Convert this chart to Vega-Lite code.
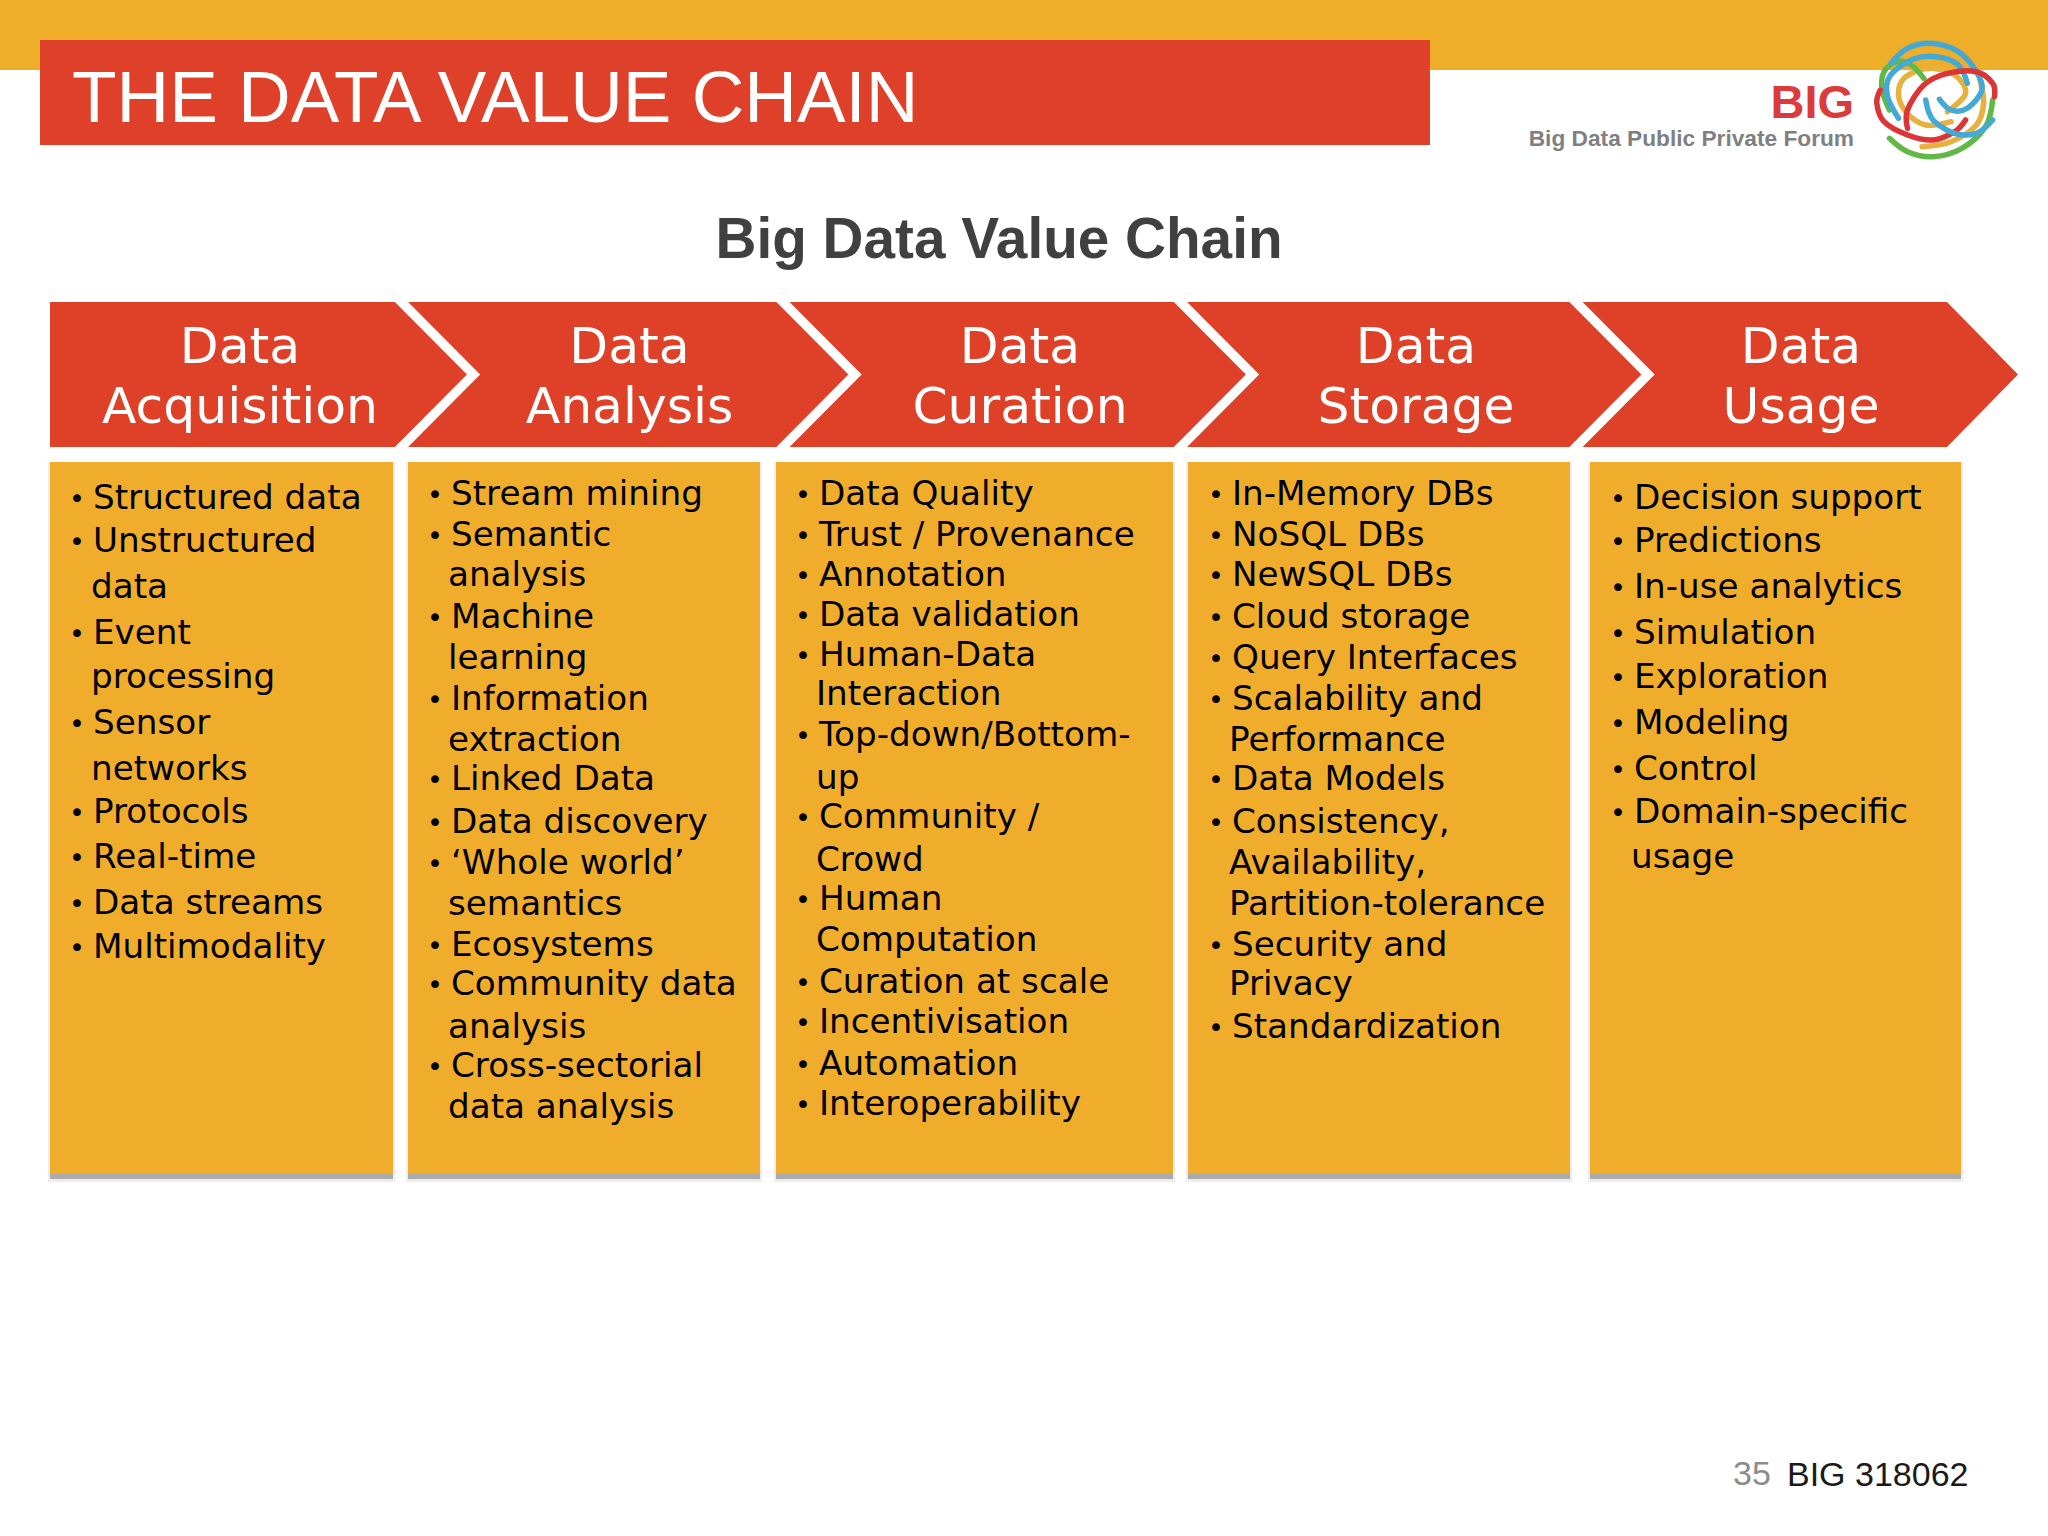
{
  "$schema": "https://vega.github.io/schema/vega-lite/v6.json",
  "width": 2048,
  "height": 1536,
  "autosize": {"type": "fit", "contains": "padding"},
  "padding": 0,
  "background": "#ffffff",
  "config": {"view": {"stroke": null}},
  "datasets": {
    "panels": [
      {"stage": "Data Acquisition", "x": 50, "x2": 393, "y": 462, "y2": 1174},
      {"stage": "Data Analysis", "x": 408, "x2": 760, "y": 462, "y2": 1174},
      {"stage": "Data Curation", "x": 776, "x2": 1173, "y": 462, "y2": 1174},
      {"stage": "Data Storage", "x": 1188, "x2": 1570, "y": 462, "y2": 1174},
      {"stage": "Data Usage", "x": 1590, "x2": 1961, "y": 462, "y2": 1174}
    ],
    "items": [
      {"stage": "Data Acquisition", "x": 93, "y": 509, "text": "Structured data", "bullet": true},
      {"stage": "Data Acquisition", "x": 93, "y": 552, "text": "Unstructured", "bullet": true},
      {"stage": "Data Acquisition", "x": 91, "y": 598, "text": "data", "bullet": false},
      {"stage": "Data Acquisition", "x": 93, "y": 644, "text": "Event", "bullet": true},
      {"stage": "Data Acquisition", "x": 91, "y": 688, "text": "processing", "bullet": false},
      {"stage": "Data Acquisition", "x": 93, "y": 734, "text": "Sensor", "bullet": true},
      {"stage": "Data Acquisition", "x": 91, "y": 779.5, "text": "networks", "bullet": false},
      {"stage": "Data Acquisition", "x": 93, "y": 822.5, "text": "Protocols", "bullet": true},
      {"stage": "Data Acquisition", "x": 93, "y": 868, "text": "Real-time", "bullet": true},
      {"stage": "Data Acquisition", "x": 93, "y": 914, "text": "Data streams", "bullet": true},
      {"stage": "Data Acquisition", "x": 93, "y": 958, "text": "Multimodality", "bullet": true},

      {"stage": "Data Analysis", "x": 451, "y": 505, "text": "Stream mining", "bullet": true},
      {"stage": "Data Analysis", "x": 451, "y": 546, "text": "Semantic", "bullet": true},
      {"stage": "Data Analysis", "x": 448, "y": 586, "text": "analysis", "bullet": false},
      {"stage": "Data Analysis", "x": 451, "y": 628, "text": "Machine", "bullet": true},
      {"stage": "Data Analysis", "x": 448, "y": 668.5, "text": "learning", "bullet": false},
      {"stage": "Data Analysis", "x": 451, "y": 710, "text": "Information", "bullet": true},
      {"stage": "Data Analysis", "x": 448, "y": 751, "text": "extraction", "bullet": false},
      {"stage": "Data Analysis", "x": 451, "y": 790, "text": "Linked Data", "bullet": true},
      {"stage": "Data Analysis", "x": 451, "y": 833, "text": "Data discovery", "bullet": true},
      {"stage": "Data Analysis", "x": 451, "y": 873.5, "text": "‘Whole world’", "bullet": true},
      {"stage": "Data Analysis", "x": 448, "y": 915, "text": "semantics", "bullet": false},
      {"stage": "Data Analysis", "x": 451, "y": 956, "text": "Ecosystems", "bullet": true},
      {"stage": "Data Analysis", "x": 451, "y": 995, "text": "Community data", "bullet": true},
      {"stage": "Data Analysis", "x": 448, "y": 1038, "text": "analysis", "bullet": false},
      {"stage": "Data Analysis", "x": 451, "y": 1077, "text": "Cross-sectorial", "bullet": true},
      {"stage": "Data Analysis", "x": 448, "y": 1118, "text": "data analysis", "bullet": false},

      {"stage": "Data Curation", "x": 819, "y": 505, "text": "Data Quality", "bullet": true},
      {"stage": "Data Curation", "x": 819, "y": 546, "text": "Trust / Provenance", "bullet": true},
      {"stage": "Data Curation", "x": 819, "y": 586, "text": "Annotation", "bullet": true},
      {"stage": "Data Curation", "x": 819, "y": 625.5, "text": "Data validation", "bullet": true},
      {"stage": "Data Curation", "x": 819, "y": 666, "text": "Human-Data", "bullet": true},
      {"stage": "Data Curation", "x": 816, "y": 705, "text": "Interaction", "bullet": false},
      {"stage": "Data Curation", "x": 819, "y": 745.5, "text": "Top-down/Bottom-", "bullet": true},
      {"stage": "Data Curation", "x": 816, "y": 788.5, "text": "up", "bullet": false},
      {"stage": "Data Curation", "x": 819, "y": 828, "text": "Community /", "bullet": true},
      {"stage": "Data Curation", "x": 816, "y": 871, "text": "Crowd", "bullet": false},
      {"stage": "Data Curation", "x": 819, "y": 910, "text": "Human", "bullet": true},
      {"stage": "Data Curation", "x": 816, "y": 950.5, "text": "Computation", "bullet": false},
      {"stage": "Data Curation", "x": 819, "y": 992.5, "text": "Curation at scale", "bullet": true},
      {"stage": "Data Curation", "x": 819, "y": 1033, "text": "Incentivisation", "bullet": true},
      {"stage": "Data Curation", "x": 819, "y": 1075, "text": "Automation", "bullet": true},
      {"stage": "Data Curation", "x": 819, "y": 1115, "text": "Interoperability", "bullet": true},

      {"stage": "Data Storage", "x": 1232, "y": 505, "text": "In-Memory DBs", "bullet": true},
      {"stage": "Data Storage", "x": 1232, "y": 546, "text": "NoSQL DBs", "bullet": true},
      {"stage": "Data Storage", "x": 1232, "y": 586, "text": "NewSQL DBs", "bullet": true},
      {"stage": "Data Storage", "x": 1232, "y": 628, "text": "Cloud storage", "bullet": true},
      {"stage": "Data Storage", "x": 1232, "y": 668.5, "text": "Query Interfaces", "bullet": true},
      {"stage": "Data Storage", "x": 1232, "y": 710, "text": "Scalability and", "bullet": true},
      {"stage": "Data Storage", "x": 1229, "y": 751, "text": "Performance", "bullet": false},
      {"stage": "Data Storage", "x": 1232, "y": 790, "text": "Data Models", "bullet": true},
      {"stage": "Data Storage", "x": 1232, "y": 833, "text": "Consistency,", "bullet": true},
      {"stage": "Data Storage", "x": 1229, "y": 873.5, "text": "Availability,", "bullet": false},
      {"stage": "Data Storage", "x": 1229, "y": 915, "text": "Partition-tolerance", "bullet": false},
      {"stage": "Data Storage", "x": 1232, "y": 956, "text": "Security and", "bullet": true},
      {"stage": "Data Storage", "x": 1229, "y": 995, "text": "Privacy", "bullet": false},
      {"stage": "Data Storage", "x": 1232, "y": 1038, "text": "Standardization", "bullet": true},

      {"stage": "Data Usage", "x": 1634, "y": 509, "text": "Decision support", "bullet": true},
      {"stage": "Data Usage", "x": 1634, "y": 552, "text": "Predictions", "bullet": true},
      {"stage": "Data Usage", "x": 1634, "y": 598, "text": "In-use analytics", "bullet": true},
      {"stage": "Data Usage", "x": 1634, "y": 644, "text": "Simulation", "bullet": true},
      {"stage": "Data Usage", "x": 1634, "y": 688, "text": "Exploration", "bullet": true},
      {"stage": "Data Usage", "x": 1634, "y": 734, "text": "Modeling", "bullet": true},
      {"stage": "Data Usage", "x": 1634, "y": 779.5, "text": "Control", "bullet": true},
      {"stage": "Data Usage", "x": 1634, "y": 822.5, "text": "Domain-specific", "bullet": true},
      {"stage": "Data Usage", "x": 1631, "y": 868, "text": "usage", "bullet": false}
    ],
    "swirl": [
      {"arc": "orange1", "hue": "orange", "seq": 1, "x": 1951, "y": 121.7},
      {"arc": "orange1", "hue": "orange", "seq": 2, "x": 1925.7, "y": 125},
      {"arc": "orange1", "hue": "orange", "seq": 3, "x": 1905.8, "y": 111.7},
      {"arc": "orange1", "hue": "orange", "seq": 4, "x": 1898.5, "y": 93.3},
      {"arc": "orange1", "hue": "orange", "seq": 5, "x": 1905.8, "y": 76.7},
      {"arc": "orange1", "hue": "orange", "seq": 6, "x": 1929.3, "y": 68.3},
      {"arc": "orange1", "hue": "orange", "seq": 7, "x": 1954.7, "y": 75},
      {"arc": "orange1", "hue": "orange", "seq": 8, "x": 1965.6, "y": 93.3},
      {"arc": "orange1", "hue": "orange", "seq": 9, "x": 1947.4, "y": 111.7},
      {"arc": "orange2", "hue": "orange", "seq": 1, "x": 1922.1, "y": 146.7},
      {"arc": "orange2", "hue": "orange", "seq": 2, "x": 1951, "y": 141.7},
      {"arc": "orange2", "hue": "orange", "seq": 3, "x": 1976.4, "y": 125},
      {"arc": "orange2", "hue": "orange", "seq": 4, "x": 1983.6, "y": 103.3},
      {"arc": "orange2", "hue": "orange", "seq": 5, "x": 1980, "y": 80},
      {"arc": "green1", "hue": "green", "seq": 1, "x": 1923.8, "y": 78.3},
      {"arc": "green1", "hue": "green", "seq": 2, "x": 1911.2, "y": 65},
      {"arc": "green1", "hue": "green", "seq": 3, "x": 1896.7, "y": 61.7},
      {"arc": "green1", "hue": "green", "seq": 4, "x": 1884, "y": 71.7},
      {"arc": "green1", "hue": "green", "seq": 5, "x": 1882.2, "y": 90},
      {"arc": "green1", "hue": "green", "seq": 6, "x": 1889.5, "y": 110},
      {"arc": "green2", "hue": "green", "seq": 1, "x": 1889.5, "y": 138.3},
      {"arc": "green2", "hue": "green", "seq": 2, "x": 1907.5, "y": 151.7},
      {"arc": "green2", "hue": "green", "seq": 3, "x": 1933, "y": 156.7},
      {"arc": "green2", "hue": "green", "seq": 4, "x": 1961.9, "y": 148.3},
      {"arc": "green2", "hue": "green", "seq": 5, "x": 1985.5, "y": 126.7},
      {"arc": "green2", "hue": "green", "seq": 6, "x": 1992.7, "y": 100},
      {"arc": "blue1", "hue": "blue", "seq": 1, "x": 1891.2, "y": 63.3},
      {"arc": "blue1", "hue": "blue", "seq": 2, "x": 1907.5, "y": 48.3},
      {"arc": "blue1", "hue": "blue", "seq": 3, "x": 1931.1, "y": 43.3},
      {"arc": "blue1", "hue": "blue", "seq": 4, "x": 1958.3, "y": 51.7},
      {"arc": "blue1", "hue": "blue", "seq": 5, "x": 1976.4, "y": 71.7},
      {"arc": "blue1", "hue": "blue", "seq": 6, "x": 1981.9, "y": 90},
      {"arc": "blue1", "hue": "blue", "seq": 7, "x": 1967.3, "y": 108.3},
      {"arc": "blue1", "hue": "blue", "seq": 8, "x": 1951, "y": 110},
      {"arc": "blue1", "hue": "blue", "seq": 9, "x": 1939.5, "y": 99.3},
      {"arc": "blue2", "hue": "blue", "seq": 1, "x": 1898.5, "y": 118.3},
      {"arc": "blue2", "hue": "blue", "seq": 2, "x": 1887.6, "y": 96.7},
      {"arc": "blue2", "hue": "blue", "seq": 3, "x": 1889.5, "y": 76.7},
      {"arc": "blue2", "hue": "blue", "seq": 4, "x": 1911.2, "y": 60},
      {"arc": "blue2", "hue": "blue", "seq": 5, "x": 1936.5, "y": 56.7},
      {"arc": "blue2", "hue": "blue", "seq": 6, "x": 1958.3, "y": 65},
      {"arc": "blue2", "hue": "blue", "seq": 7, "x": 1967.3, "y": 83.3},
      {"arc": "red1", "hue": "red", "seq": 1, "x": 1907.5, "y": 128.3},
      {"arc": "red1", "hue": "red", "seq": 2, "x": 1907.5, "y": 110},
      {"arc": "red1", "hue": "red", "seq": 3, "x": 1923.8, "y": 85},
      {"arc": "red1", "hue": "red", "seq": 4, "x": 1947.4, "y": 73.3},
      {"arc": "red1", "hue": "red", "seq": 5, "x": 1976.4, "y": 71.7},
      {"arc": "red1", "hue": "red", "seq": 6, "x": 1992.7, "y": 83.3},
      {"arc": "red1", "hue": "red", "seq": 7, "x": 1994.5, "y": 96.7},
      {"arc": "red2", "hue": "red", "seq": 1, "x": 1880.3, "y": 90},
      {"arc": "red2", "hue": "red", "seq": 2, "x": 1876.8, "y": 103.3},
      {"arc": "red2", "hue": "red", "seq": 3, "x": 1884, "y": 121.7},
      {"arc": "red2", "hue": "red", "seq": 4, "x": 1907.5, "y": 135},
      {"arc": "red2", "hue": "red", "seq": 5, "x": 1933, "y": 140},
      {"arc": "red2", "hue": "red", "seq": 6, "x": 1954.7, "y": 131.7},
      {"arc": "red2", "hue": "red", "seq": 7, "x": 1965.6, "y": 120},
      {"arc": "blue3", "hue": "blue", "seq": 1, "x": 1925.7, "y": 100},
      {"arc": "blue3", "hue": "blue", "seq": 2, "x": 1933, "y": 120},
      {"arc": "blue3", "hue": "blue", "seq": 3, "x": 1954.7, "y": 133.3},
      {"arc": "blue3", "hue": "blue", "seq": 4, "x": 1976.4, "y": 133.3},
      {"arc": "blue3", "hue": "blue", "seq": 5, "x": 1992.7, "y": 120}
    ]
  },
  "encoding": {
    "x": {"field": "x", "type": "quantitative", "axis": null, "scale": {"domain": [0, 2048], "nice": false, "zero": false}},
    "y": {"field": "y", "type": "quantitative", "axis": null, "scale": {"domain": [1536, 0], "nice": false, "zero": false}}
  },
  "layer": [
    {
      "data": {"values": [{"x": 0, "x2": 2048, "y": 0, "y2": 70}]},
      "mark": {"type": "rect", "fill": "#efae2a"},
      "encoding": {"x2": {"field": "x2"}, "y2": {"field": "y2"}}
    },
    {
      "data": {"values": [{"x": 40, "x2": 1430, "y": 40, "y2": 145}]},
      "mark": {"type": "rect", "fill": "#df4029"},
      "encoding": {"x2": {"field": "x2"}, "y2": {"field": "y2"}}
    },
    {
      "data": {"values": [{"x": 50, "y": 302, "y2": 447}, {"x": 1947, "y": 302, "y2": 447}, {"x": 2018, "y": 374.5, "y2": 374.5}]},
      "mark": {"type": "area", "orient": "vertical", "fill": "#de4028"},
      "encoding": {"y2": {"field": "y2"}}
    },
    {
      "data": {"values": [
        {"sep": 1, "seq": 1, "x": 395.5, "y": 296}, {"sep": 1, "seq": 2, "x": 473.5, "y": 374.5}, {"sep": 1, "seq": 3, "x": 395.5, "y": 453},
        {"sep": 2, "seq": 1, "x": 777, "y": 296}, {"sep": 2, "seq": 2, "x": 855, "y": 374.5}, {"sep": 2, "seq": 3, "x": 777, "y": 453},
        {"sep": 3, "seq": 1, "x": 1174.5, "y": 296}, {"sep": 3, "seq": 2, "x": 1252.5, "y": 374.5}, {"sep": 3, "seq": 3, "x": 1174.5, "y": 453},
        {"sep": 4, "seq": 1, "x": 1570, "y": 296}, {"sep": 4, "seq": 2, "x": 1648, "y": 374.5}, {"sep": 4, "seq": 3, "x": 1570, "y": 453}
      ]},
      "mark": {"type": "line", "stroke": "#ffffff", "strokeWidth": 9.5, "strokeJoin": "miter"},
      "encoding": {"detail": {"field": "sep"}, "order": {"field": "seq"}}
    },
    {
      "data": {"name": "panels"},
      "mark": {"type": "rect", "fill": "#000000", "opacity": 0.07, "xOffset": -2, "x2Offset": 2, "y2Offset": 8},
      "encoding": {"x2": {"field": "x2"}, "y2": {"field": "y2"}}
    },
    {
      "data": {"name": "panels"},
      "mark": {"type": "rect", "fill": "#000000", "opacity": 0.28, "y2Offset": 5},
      "encoding": {"x2": {"field": "x2"}, "y2": {"field": "y2"}}
    },
    {
      "data": {"name": "panels"},
      "mark": {"type": "rect", "fill": "#f0ad2b"},
      "encoding": {"x2": {"field": "x2"}, "y2": {"field": "y2"}}
    },
    {
      "data": {"name": "items"},
      "mark": {"type": "text", "font": "DejaVu Sans", "fontSize": 34.2, "align": "left", "baseline": "alphabetic", "fill": "#000000"},
      "encoding": {"text": {"field": "text"}}
    },
    {
      "data": {"name": "items"},
      "transform": [{"filter": "datum.bullet"}],
      "mark": {"type": "text", "font": "DejaVu Sans", "fontSize": 27, "align": "center", "baseline": "alphabetic", "fill": "#000000", "text": "•", "xOffset": -16, "yOffset": -1}
    },
    {
      "data": {"values": [
        {"x": 240, "y": 363, "text": "Data"}, {"x": 240, "y": 423, "text": "Acquisition"},
        {"x": 629.5, "y": 363, "text": "Data"}, {"x": 629.5, "y": 423, "text": "Analysis"},
        {"x": 1020, "y": 363, "text": "Data"}, {"x": 1020, "y": 423, "text": "Curation"},
        {"x": 1416, "y": 363, "text": "Data"}, {"x": 1416, "y": 423, "text": "Storage"},
        {"x": 1801, "y": 363, "text": "Data"}, {"x": 1801, "y": 423, "text": "Usage"}
      ]},
      "mark": {"type": "text", "font": "DejaVu Sans", "fontSize": 50.4, "align": "center", "baseline": "alphabetic", "fill": "#ffffff"},
      "encoding": {"text": {"field": "text"}}
    },
    {
      "data": {"values": [{"x": 72, "y": 122, "text": "THE DATA VALUE CHAIN"}]},
      "mark": {"type": "text", "font": "Liberation Sans", "fontSize": 72.9, "align": "left", "baseline": "alphabetic", "fill": "#ffffff"},
      "encoding": {"text": {"field": "text"}}
    },
    {
      "data": {"values": [{"x": 999, "y": 258, "text": "Big Data Value Chain"}]},
      "mark": {"type": "text", "font": "Liberation Sans", "fontWeight": "bold", "fontSize": 56.7, "align": "center", "baseline": "alphabetic", "fill": "#404040"},
      "encoding": {"text": {"field": "text"}}
    },
    {
      "data": {"values": [{"x": 1854, "y": 118, "text": "BIG"}]},
      "mark": {"type": "text", "font": "Liberation Sans", "fontWeight": "bold", "fontSize": 47, "align": "right", "baseline": "alphabetic", "fill": "#dc3b3b"},
      "encoding": {"text": {"field": "text"}}
    },
    {
      "data": {"values": [{"x": 1854, "y": 146, "text": "Big Data Public Private Forum"}]},
      "mark": {"type": "text", "font": "Liberation Sans", "fontWeight": "bold", "fontSize": 22.7, "align": "right", "baseline": "alphabetic", "fill": "#808080"},
      "encoding": {"text": {"field": "text"}}
    },
    {
      "data": {"name": "swirl"},
      "mark": {"type": "line", "interpolate": "cardinal", "strokeWidth": 5.5, "strokeCap": "round"},
      "encoding": {
        "detail": {"field": "arc"},
        "order": {"field": "seq"},
        "color": {
          "field": "hue",
          "legend": null,
          "scale": {"domain": ["orange", "green", "blue", "red"], "range": ["#e8b13f", "#62b846", "#45a9d6", "#dc3535"]}
        }
      }
    },
    {
      "data": {"values": [{"x": 1733, "y": 1485, "text": "35"}]},
      "mark": {"type": "text", "font": "Liberation Sans", "fontSize": 34, "align": "left", "baseline": "alphabetic", "fill": "#8c8c8c"},
      "encoding": {"text": {"field": "text"}}
    },
    {
      "data": {"values": [{"x": 1787, "y": 1486, "text": "BIG 318062"}]},
      "mark": {"type": "text", "font": "Liberation Sans", "fontSize": 34, "align": "left", "baseline": "alphabetic", "fill": "#1a1a1a"},
      "encoding": {"text": {"field": "text"}}
    }
  ]
}
